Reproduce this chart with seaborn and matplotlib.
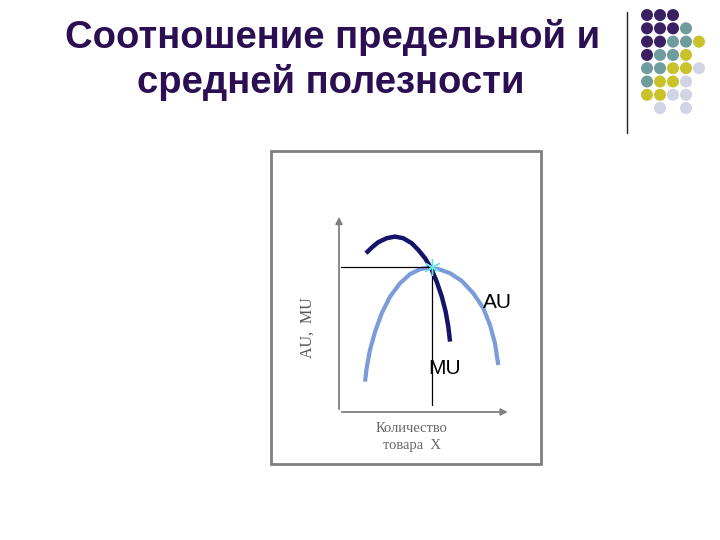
import matplotlib
matplotlib.use("Agg")
import matplotlib.pyplot as plt
import seaborn as sns
import pandas as pd
from matplotlib.patches import Rectangle
from matplotlib.lines import Line2D

sns.set_style("white")
plt.rcParams['font.family'] = ['Liberation Sans', 'DejaVu Sans']

# Title lines
title_1 = "Соотношение предельной и"
title_2 = "средней полезности"

# MU curve (quantity, utility)
mu_x = [1.53, 1.86, 2.23, 2.71, 3.18, 3.65, 4.13, 4.51, 4.89, 5.23, 5.55, 5.84, 6.06, 6.21, 6.31]
mu_y = [7.94, 8.22, 8.49, 8.69, 8.77, 8.69, 8.44, 8.10, 7.69, 7.19, 6.52, 5.77, 5.02, 4.27, 3.52]

# AU curve
au_x = [1.48, 1.57, 1.76, 2.05, 2.43, 2.90, 3.47, 4.03, 4.60, 5.07, 5.64, 6.31, 6.98, 7.63,
        8.20, 8.58, 8.86, 9.05]
au_y = [1.52, 2.19, 3.10, 4.02, 4.94, 5.77, 6.44, 6.89, 7.14, 7.22, 7.15, 6.94, 6.55, 5.94,
        5.19, 4.35, 3.44, 2.35]

# point where MU crosses AU (maximum of AU)
cross_x = 5.30
cross_y = 7.25

# decorative dot grid: column, row, colour group
dot_col = [0, 1, 2,
           0, 1, 2, 3,
           0, 1, 2, 3, 4,
           0, 1, 2, 3,
           0, 1, 2, 3, 4,
           0, 1, 2, 3,
           0, 1, 2, 3,
           1, 3]
dot_row = [0, 0, 0,
           1, 1, 1, 1,
           2, 2, 2, 2, 2,
           3, 3, 3, 3,
           4, 4, 4, 4, 4,
           5, 5, 5, 5,
           6, 6, 6, 6,
           7, 7]
dot_group = ["P", "P", "P",
             "P", "P", "P", "G",
             "P", "P", "G", "G", "Y",
             "P", "G", "G", "Y",
             "G", "G", "Y", "Y", "L",
             "G", "Y", "Y", "L",
             "Y", "Y", "L", "L",
             "L", "L"]
dot_palette = {"P": "#3b1f63", "G": "#6f9c9c", "Y": "#c9c22a", "L": "#d2d3e4"}

fig = plt.figure(figsize=(7.2, 5.4), dpi=100)
W, H = 720, 540

# title
title_color = "#2b0f52"
fig.text(333 / W, 1 - 48 / H, title_1, ha="center", va="baseline",
         fontsize=27.5, fontweight="bold", color=title_color)
fig.text(331 / W, 1 - 93 / H, title_2, ha="center", va="baseline",
         fontsize=27.5, fontweight="bold", color=title_color)

# vertical separator line
fig.add_artist(Line2D([627 / W, 627 / W], [1 - 12 / H, 1 - 133 / H],
                      color="#222222", lw=1.0))

# dot grid
dots = pd.DataFrame({"col": dot_col, "row": dot_row, "group": dot_group})
ax_dots = fig.add_axes([640 / W, 1 - 115 / H, 66 / W, 107 / H])
sns.scatterplot(data=dots, x="col", y="row", hue="group", palette=dot_palette,
                s=75, edgecolor="none", legend=False, ax=ax_dots)
ax_dots.set_xlim(-0.54, 4.54)
ax_dots.set_ylim(7.52, -0.53)
ax_dots.axis("off")

# frame around the diagram
fig.add_artist(Rectangle((271 / W, 1 - 464 / H), 270 / W, 313 / H,
                         fill=False, edgecolor="#7f7f7f", lw=2.0))

# diagram axes
ax = fig.add_axes([339 / W, 1 - 412 / H, 176 / W, 200 / H])
ax.set_xlim(0, 10)
ax.set_ylim(0, 10)
ax.axis("off")

sns.lineplot(x=au_x, y=au_y, sort=False, color="#7b9bd9", lw=3.0,
             solid_capstyle="butt", ax=ax)
sns.lineplot(x=mu_x, y=mu_y, sort=False, color="#14146b", lw=3.2,
             solid_capstyle="butt", ax=ax)

# guide lines
ax.plot([0.1, cross_x], [cross_y, cross_y], color="black", lw=0.9)
ax.plot([cross_x, cross_x], [cross_y, 0.35], color="black", lw=0.9)
ax.plot([cross_x], [cross_y], marker=(6, 2, 0), color="#6fe3e3", ms=12, mew=1.0)

# coordinate axes with arrows
arrow = dict(arrowstyle="-|>", color="#808080", lw=1.3, mutation_scale=10)
ax.annotate("", xy=(9.75, 0), xytext=(0, 0), arrowprops=arrow, annotation_clip=False)
ax.annotate("", xy=(0, 9.9), xytext=(0, 0), arrowprops=arrow, annotation_clip=False)

# labels
ax.text(9.0, 5.5, "AU", fontsize=15, ha="center", va="center", color="black")
ax.text(6.0, 2.15, "MU", fontsize=15, ha="center", va="center", color="black")
fig.text(308 / W, 1 - 328 / H, "AU,  MU", rotation=90, ha="center", va="center",
         fontsize=11.5, color="#555555", family=["Liberation Serif", "DejaVu Serif"])
fig.text(412 / W, 1 - 437 / H, "Количество\nтовара  X", ha="center", va="center",
         fontsize=10.5, color="#666666", linespacing=1.45,
         family=["Liberation Serif", "DejaVu Serif"])

fig.savefig("out.png", dpi=100)
